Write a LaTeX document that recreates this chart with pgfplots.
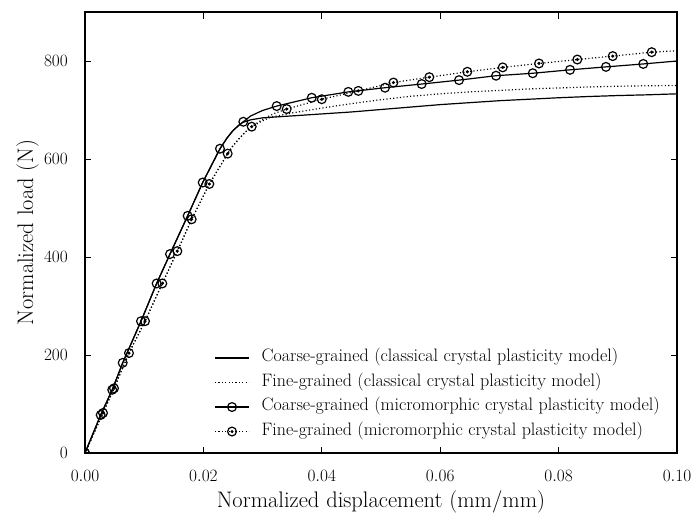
\documentclass[border=0pt]{standalone}
\usepackage{pgfplots}
\pgfplotsset{compat=1.18}
\usepackage{pgfplotstable}

% open circle with a dot in its centre
\pgfdeclareplotmark{odot}{%
  \pgfpathcircle{\pgfpointorigin}{\pgfplotmarksize}\pgfusepathqstroke
  \pgfpathcircle{\pgfpointorigin}{0.2\pgfplotmarksize}\pgfusepathqfillstroke}

% coarse-grained, classical crystal plasticity
\pgfplotstableread{
x y
0 0
0.00265 77.6
0.0046 129
0.00637 184
0.00946 269
0.0121 346
0.01436 406
0.01734 484
0.01988 552
0.0228 621
0.024 643
0.025 658
0.026 669
0.0267 675
0.028 680
0.030 684
0.035 688
0.040 692
0.045 696
0.050 701
0.055 706
0.060 711
0.065 715
0.070 719
0.075 722
0.080 725
0.085 727.5
0.090 729.5
0.095 731
0.100 733
}\coarseclassical

% fine-grained, classical crystal plasticity
\pgfplotstableread{
x y
0 0
0.00304 81.6
0.0049 132
0.00743 204
0.01014 269
0.01306 346
0.0156 412
0.01802 477
0.021 549
0.0241 611
0.025 627
0.026 641
0.027 654
0.028 665
0.030 678
0.0313 685
0.035 694
0.040 704
0.045 713
0.050 721
0.055 728
0.060 733
0.065 737
0.070 740
0.075 743
0.080 745
0.085 747
0.090 748.5
0.095 749.5
0.100 750
}\fineclassical

% coarse-grained, micromorphic crystal plasticity (curve)
\pgfplotstableread{
x y
0 0
0.00265 77.6
0.0046 129
0.00637 184
0.00946 269
0.0121 346
0.01436 406
0.01734 484
0.01988 552
0.0228 621
0.024 643
0.025 658
0.026 669
0.02674 676
0.028 688
0.030 699
0.03238 708
0.0383 725
0.04448 737
0.05068 745.5
0.05687 753
0.06318 761
0.06943 770
0.07563 775
0.08193 782
0.0880 788
0.0943 794
0.1000 800
}\coarsemicro

% coarse-grained, micromorphic crystal plasticity (marked points)
\pgfplotstableread{
x y
0 0
0.00265 77.6
0.0046 129
0.00637 184
0.00946 269
0.0121 346
0.01436 406
0.01734 484
0.01988 552
0.0228 621
0.02674 676
0.03238 708
0.0383 725
0.04448 737
0.05068 745.5
0.05687 753
0.06318 761
0.06943 770
0.07563 775
0.08193 782
0.0880 788
0.0943 794
}\coarsemicromarks

% fine-grained, micromorphic crystal plasticity (curve)
\pgfplotstableread{
x y
0 0
0.00304 81.6
0.0049 132
0.00743 204
0.01014 269
0.01306 346
0.0156 412
0.01802 477
0.021 549
0.0241 611
0.025 627
0.026 641
0.027 654
0.02816 666
0.030 681
0.032 693
0.03407 702
0.0400 722
0.04617 739
0.0521 756
0.05816 767
0.06458 778
0.07056 787
0.07669 795
0.08316 803
0.08914 810
0.09573 818
0.1000 821
}\finemicro

% fine-grained, micromorphic crystal plasticity (marked points)
\pgfplotstableread{
x y
0 0
0.00304 81.6
0.0049 132
0.00743 204
0.01014 269
0.01306 346
0.0156 412
0.01802 477
0.021 549
0.0241 611
0.02816 666
0.03407 702
0.0400 722
0.04617 739
0.0521 756
0.05816 767
0.06458 778
0.07056 787
0.07669 795
0.08316 803
0.08914 810
0.09573 818
}\finemicromarks

\begin{document}
\begin{tikzpicture}
\useasboundingbox (-85pt,-64pt) rectangle (610pt,453pt);
\begin{axis}[
  at={(0,0)}, anchor=south west,
  scale only axis, width=592pt, height=441pt,
  xmin=0, xmax=0.1, ymin=0, ymax=900,
  xtick={0,0.02,0.04,0.06,0.08,0.1},
  ytick={0,200,400,600,800},
  scaled x ticks=false,
  tick align=inside, major tick length=6.5pt,
  every tick/.style={black, line width=1pt},
  axis line style={line width=1.1pt},
  tick label style={font=\fontsize{16}{19}\selectfont},
  yticklabel style={anchor=east, inner sep=0pt, xshift=-17pt},
  xticklabel style={/pgf/number format/fixed, /pgf/number format/fixed zerofill,
    /pgf/number format/precision=2, anchor=north, inner sep=0pt, yshift=-17.5pt},
  label style={font=\fontsize{22.5}{27}\selectfont},
  xlabel={Normalized displacement (mm/mm)},
  ylabel={Normalized load (N)},
  xlabel style={at={(axis description cs:0.5,-0.1247)}, anchor=base},
  ylabel style={at={(axis description cs:-0.0878,0.5)}, anchor=base},
  clip marker paths=true,
  legend cell align=left,
  legend style={draw=none, fill=none, at={(rel axis cs:0.978,0.025)}, anchor=south east,
    font=\fontsize{18}{21}\selectfont, column sep=11pt,
    nodes={inner sep=1pt, text height=11pt, text depth=3.5pt}, row sep=8pt},
  legend image code/.code={\draw[mark repeat=2, mark phase=2, #1]
    plot coordinates {(0pt,0pt) (17pt,0pt) (34pt,0pt)};},
  cls/.style={black, line width=1.2pt},
  fin/.style={black, line width=1.2pt, dash pattern=on 1.1pt off 2.3pt},
  cmk/.style={mark=o, mark size=4.4pt, mark options={solid, line width=1.2pt}},
  fmk/.style={mark=odot, mark size=4.4pt, mark options={solid, line width=1.2pt}},
]
\addplot [cls, forget plot] table {\coarseclassical};
\addplot [fin, forget plot] table {\fineclassical};
\addplot [cls, forget plot] table {\coarsemicro};
\addplot [cls, cmk, only marks, forget plot] table {\coarsemicromarks};
\addplot [fin, forget plot] table {\finemicro};
\addplot [fin, fmk, only marks, forget plot] table {\finemicromarks};

\addlegendimage{cls}
\addlegendentry{Coarse-grained (classical crystal plasticity model)}
\addlegendimage{fin}
\addlegendentry{Fine-grained (classical crystal plasticity model)}
\addlegendimage{cls, cmk}
\addlegendentry{Coarse-grained (micromorphic crystal plasticity model)}
\addlegendimage{fin, fmk}
\addlegendentry{Fine-grained (micromorphic crystal plasticity model)}
\end{axis}
\end{tikzpicture}
\end{document}
